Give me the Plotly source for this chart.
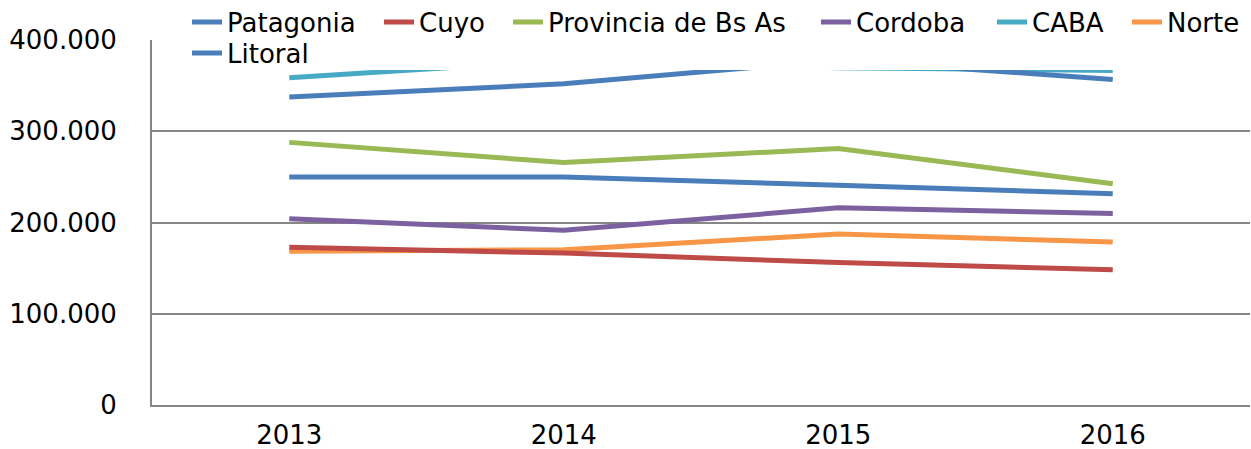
import plotly.graph_objects as go

years = ["2013", "2014", "2015", "2016"]
patagonia = [249.8, 249.8, 240.7, 231.5]
cuyo = [172.8, 166.5, 156.1, 148.1]
provincia = [287.8, 265.7, 281.1, 242.5]
cordoba = [204.0, 191.4, 216.1, 210.0]
caba = [358.7, 377.8, 369.5, 366.7]
norte = [168.5, 170.1, 187.4, 178.6]
litoral = [337.5, 352.0, 378.0, 356.8]

series_names = ["Patagonia", "Cuyo", "Provincia de Bs As", "Cordoba", "CABA", "Norte", "Litoral"]
series_values = [patagonia, cuyo, provincia, cordoba, caba, norte, litoral]
colors = ["#4A7EBB", "#BE4B48", "#98B954", "#7D60A0", "#46AAC5", "#F79646", "#4A7EBB"]
# drawing order (index into series lists); Cuyo is drawn over Norte in the original
draw_order = [0, 2, 3, 4, 5, 1, 6]

y_tickvals = [0, 100, 200, 300, 400]
y_ticktext = ["0", "100.000", "200.000", "300.000", "400.000"]

FONT = "Verdana, DejaVu Sans, sans-serif"
W, H = 1251, 449
ML, MR, MT, MB = 152, 1, 40, 44
PW, PH = W - ML - MR, H - MT - MB

# legend entry positions (pixels: text start x, row centre y)
legend_text_x = [227, 419, 548, 856, 1032, 1167, 227]
legend_row_y = [22, 22, 22, 22, 22, 22, 53]

fig = go.Figure()
layout_legends = {}
for i in draw_order:
    name, vals, col = series_names[i], series_values[i], colors[i]
    key = "legend" if i == 0 else f"legend{i + 1}"
    fig.add_trace(go.Scatter(x=years, y=vals, name=name, mode="lines",
                             line=dict(color=col, width=5), legend=key))
    layout_legends[key] = dict(
        orientation="h", xref="paper", yref="paper",
        x=(legend_text_x[i] - 40 - ML) / PW, xanchor="left",
        y=1 - (legend_row_y[i] - MT) / PH, yanchor="middle",
        bgcolor="rgba(0,0,0,0)", borderwidth=0,
        font=dict(family=FONT, size=26, color="black"),
        itemwidth=30,
    )

fig.update_layout(
    width=W, height=H,
    margin=dict(l=ML, r=MR, t=MT, b=MB, autoexpand=False),
    paper_bgcolor="white", plot_bgcolor="white",
    font=dict(family=FONT, size=26, color="black"),
    showlegend=True,
    **layout_legends,
)
# white legend background box (covers the top of the plot, like the original legend area)
fig.add_shape(type="rect", xref="paper", yref="paper",
              x0=(166 - ML) / PW, x1=1 + MR / PW,
              y0=1 - (70 - MT) / PH, y1=1 + MT / PH,
              fillcolor="white", line=dict(width=0), layer="above")

fig.update_xaxes(type="category", range=[-0.5, 3.5], showgrid=False,
                 showline=True, linecolor="#868686", linewidth=2,
                 ticks="", tickfont=dict(family=FONT, size=26, color="black"),
                 ticklabelstandoff=6, automargin=False)
fig.update_yaxes(range=[0, 400], tickvals=y_tickvals, ticktext=y_ticktext,
                 showgrid=True, gridcolor="#868686", gridwidth=2,
                 showline=True, linecolor="#868686", linewidth=2,
                 zeroline=False, ticks="",
                 tickfont=dict(family=FONT, size=26, color="black"),
                 ticklabelstandoff=28, automargin=False)

fig.write_html("out.html", config={"displayModeBar": False},
               post_script="document.body.style.margin='0';")
